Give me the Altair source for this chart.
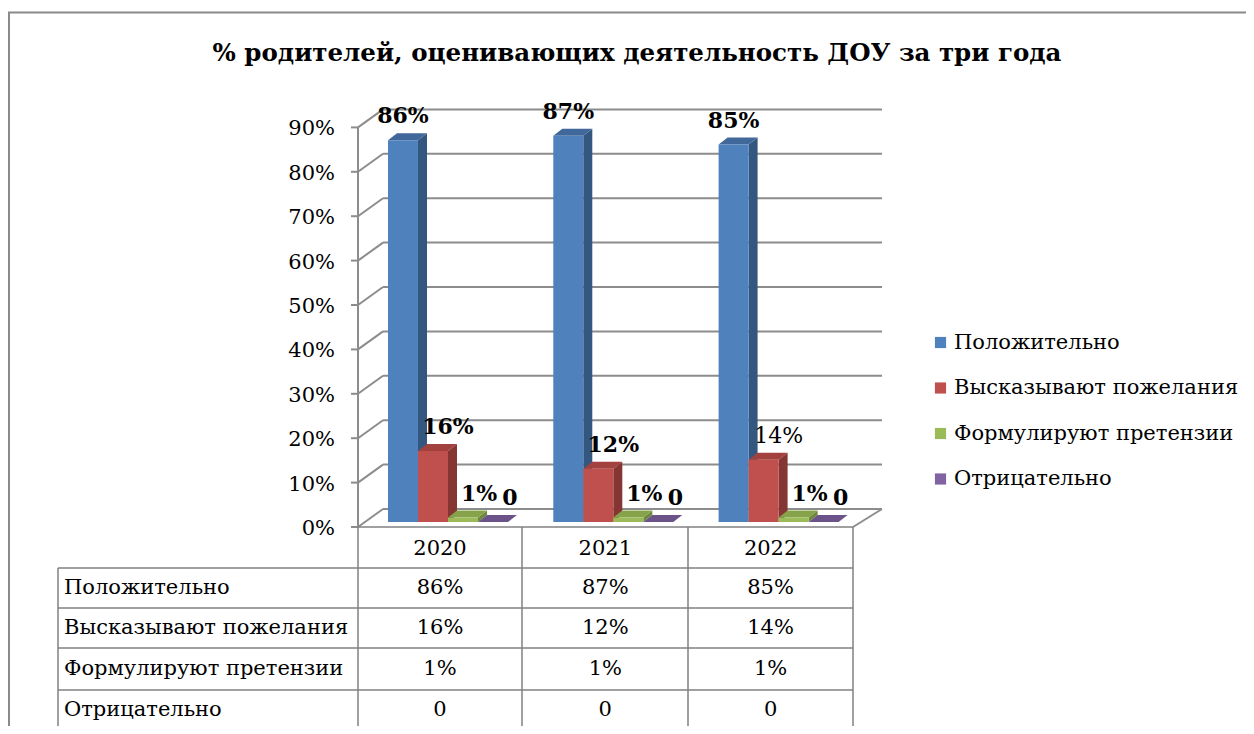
import altair as alt
import pandas as pd

# ---------------- data ----------------
YEARS = ["2020", "2021", "2022"]
SERIES = ["Положительно", "Высказывают пожелания", "Формулируют претензии", "Отрицательно"]
POSITIVE = [86, 87, 85]
WISHES = [16, 12, 14]
CLAIMS = [1, 1, 1]
NEGATIVE = [0, 0, 0]
VALUES = [POSITIVE, WISHES, CLAIMS, NEGATIVE]
TICKS = [0, 10, 20, 30, 40, 50, 60, 70, 80, 90]
TITLE = "% родителей, оценивающих деятельность ДОУ за три года"
NORMAL_WEIGHT_LABELS = [(1, 2)]  # (series, year) label drawn in regular weight

FRONT = ["#4F81BD", "#C0504D", "#9BBB59", "#8064A2"]
SIDE = ["#34577F", "#853532", "#6E883D", "#58446F"]
TOP = ["#40689A", "#A3413E", "#86A34A", "#6B5289"]

FONT = "DejaVu Serif"
FS = 21

# ---------------- layout ----------------
W, H = 1238, 718
OFF = 8
GX0, GW = 440.0, 165.3   # page x of first group centre, group spacing
YB, YS = 522.0, 4.44     # page y of 0 % (bar plane), px per 1 %
LABEL_SHIFT = [0, 15, 16, 17]  # px, horizontal shift of value labels per series


def U(px):
    return (px - GX0) / GW


def V(py):
    return (YB - py) / YS


xs = alt.Scale(domain=[U(OFF), U(OFF + W)], range=[0, W], nice=False, zero=False)
ys = alt.Scale(domain=[V(OFF + H), V(OFF)], range=[H, 0], nice=False, zero=False)


def X(f):
    return alt.X(f, type="quantitative", scale=xs, axis=None)


def Y(f):
    return alt.Y(f, type="quantitative", scale=ys, axis=None)


BAR_W = 30 / GW
DX, DY = 9 / GW, 7 / YS

fronts, sides, tops, labels = [], [], [], []
for i, yr in enumerate(YEARS):
    for j, s in enumerate(SERIES):
        v = VALUES[j][i]
        xl = i + U(388) + j * BAR_W
        xr = xl + BAR_W
        bid = f"b{i}{j}"
        fronts.append(dict(series=s, xl=xl, xr=xr, y0=0, v=v))
        sides.append(dict(bid=bid, sj=j, x=xr, y=0, y2=v))
        sides.append(dict(bid=bid, sj=j, x=xr + DX, y=DY, y2=v + DY))
        tops.append(dict(bid=bid, sj=j, y=v, x=xl, x2=xr))
        tops.append(dict(bid=bid, sj=j, y=v + DY, x=xl + DX, x2=xr + DX))
        txt = "0" if s == "Отрицательно" else f"{v}%"
        labels.append(dict(x=(xl + xr) / 2 + LABEL_SHIFT[j] / GW, y=v + 24 / YS, t=txt,
                           bold=(j, i) not in NORMAL_WEIGHT_LABELS))

fronts = pd.DataFrame(fronts)
sides = pd.DataFrame(sides)
tops = pd.DataFrame(tops)
labels = pd.DataFrame(labels)

# grid / axis segments of the 3-D walls
segs = []
for t in TICKS:
    segs.append(dict(x=U(383), y=t + V(509), x2=U(882), y2=t + V(509), k="grid"))
    segs.append(dict(x=U(358), y=t + V(527), x2=U(383), y2=t + V(509), k="grid"))
    segs.append(dict(x=U(351), y=t + V(527), x2=U(358), y2=t + V(527), k="grid"))
segs.append(dict(x=U(358), y=V(527), x2=U(358), y2=90 + V(527), k="grid"))
segs.append(dict(x=U(853), y=V(527), x2=U(882), y2=V(509), k="grid"))
# data-table lines
for py, x0 in [(527, 358), (568, 58), (608, 58), (648, 58), (690, 58), (730, 58)]:
    segs.append(dict(x=U(x0), y=V(py), x2=U(853), y2=V(py), k="table"))
segs.append(dict(x=U(58), y=V(568), x2=U(58), y2=V(730), k="table"))
for px in [358, 522, 688, 853]:
    segs.append(dict(x=U(px), y=V(527), x2=U(px), y2=V(730), k="table"))
segs = pd.DataFrame(segs)

ylab = pd.DataFrame(dict(t=[f"{t}%" for t in TICKS], y=[t + V(527) - 2 / YS for t in TICKS], x=U(335)))

ROW_Y = [588, 628, 669, 710]
cells = []
for j, s in enumerate(SERIES):
    for i, yr in enumerate(YEARS):
        v = VALUES[j][i]
        cells.append(dict(x=i, y=V(ROW_Y[j]), t=("0" if s == "Отрицательно" else f"{v}%")))
cells = pd.DataFrame(cells)
rowlab = pd.DataFrame(dict(t=SERIES, y=[V(r) for r in ROW_Y], x=U(64)))
header = pd.DataFrame(dict(t=YEARS, x=list(range(len(YEARS))), y=V(549)))

one = pd.DataFrame(dict(t=[TITLE]))

# ---------------- layers ----------------
frame = alt.layer(
    alt.Chart(one).mark_rule(color="#8a8a8a", strokeWidth=2).encode(
        x=alt.value(0), x2=alt.value(W), y=alt.value(4.5)),
    alt.Chart(one).mark_rule(color="#8a8a8a", strokeWidth=2).encode(
        x=alt.value(1), y=alt.value(4.5), y2=alt.value(H)),
)

grid = alt.Chart(segs).transform_filter("datum.k == 'grid'").mark_rule(
    color="#8c8c8c", strokeWidth=2).encode(x=X("x"), y=Y("y"), x2="x2", y2="y2")
table = alt.Chart(segs).transform_filter("datum.k == 'table'").mark_rule(
    color="#808080", strokeWidth=1.5).encode(x=X("x"), y=Y("y"), x2="x2", y2="y2")

side_layers = []
top_layers = []
for j in range(len(SERIES)):
    side_layers.append(
        alt.Chart(sides).transform_filter(f"datum.sj == {j}").mark_area(
            orient="vertical", color=SIDE[j], opacity=1).encode(
            x=X("x"), y=Y("y"), y2="y2", detail="bid:N"))
    top_layers.append(
        alt.Chart(tops).transform_filter(f"datum.sj == {j}").mark_area(
            orient="horizontal", color=TOP[j], opacity=1).encode(
            y=Y("y"), x=X("x"), x2="x2", detail="bid:N"))

front_l = alt.Chart(fronts).mark_rect().encode(
    x=X("xl"), x2="xr", y=Y("y0"), y2="v",
    color=alt.Color("series:N", scale=alt.Scale(domain=SERIES, range=FRONT),
                    legend=alt.Legend(title=None, orient="none", legendX=922, legendY=324,
                                      symbolType="square", symbolSize=125, symbolStrokeWidth=0,
                                      labelFont=FONT, labelFontSize=FS, labelColor="black",
                                      labelOffset=3, rowPadding=23.5, labelLimit=400)))

lab_b = alt.Chart(labels).transform_filter("datum.bold").mark_text(
    font=FONT, fontSize=22, fontWeight="bold", baseline="middle", color="black").encode(
    x=X("x"), y=Y("y"), text="t:N")
lab_n = alt.Chart(labels).transform_filter("!datum.bold").mark_text(
    font=FONT, fontSize=22, baseline="middle", color="black").encode(
    x=X("x"), y=Y("y"), text="t:N")

ylab_l = alt.Chart(ylab).mark_text(font=FONT, fontSize=FS, align="right", baseline="middle",
                                    color="black").encode(x=X("x"), y=Y("y"), text="t:N")
cell_l = alt.Chart(cells).mark_text(font=FONT, fontSize=FS, baseline="middle",
                                     color="black").encode(x=X("x"), y=Y("y"), text="t:N")
rowlab_l = alt.Chart(rowlab).mark_text(font=FONT, fontSize=FS, align="left", baseline="middle",
                                        color="black").encode(x=X("x"), y=Y("y"), text="t:N")
header_l = alt.Chart(header).mark_text(font=FONT, fontSize=FS, baseline="middle",
                                        color="black").encode(x=X("x"), y=Y("y"), text="t:N")
title_l = alt.Chart(one).mark_text(font=FONT, fontSize=24.5, fontWeight="bold", baseline="middle",
                                    color="black").encode(
    x=alt.value(637 - OFF), y=alt.value(54 - OFF), text="t:N")

chart = alt.layer(
    frame, title_l, grid, table, *side_layers, *top_layers, front_l, lab_b, lab_n,
    ylab_l, cell_l, rowlab_l, header_l,
).properties(
    width=W, height=H, autosize=alt.AutoSizeParams(type="none"), padding=0,
).configure_view(stroke=None)

chart.save("out.html", embed_options={"renderer": "svg", "actions": False})
